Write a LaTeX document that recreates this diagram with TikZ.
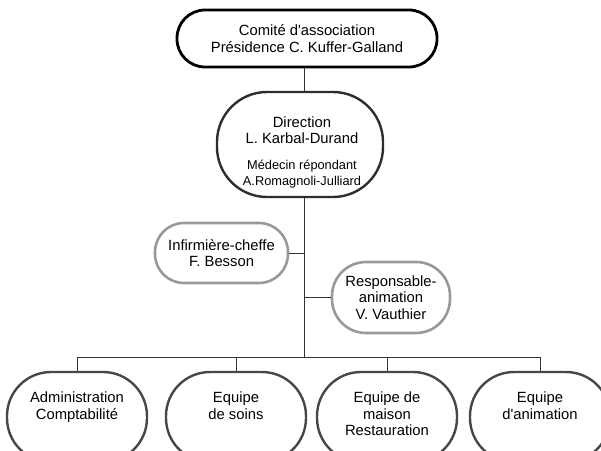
\documentclass[tikz,border=0pt]{standalone}
\usepackage{fontspec}
\setmainfont{Liberation Sans}
\newcommand{\mainsize}{\fontsize{14.8}{16.5}\selectfont}
\newcommand{\smallsize}{\fontsize{12.8}{13.5}\selectfont}
\newcommand{\apos}{\textquotesingle}
\begin{document}
\begin{tikzpicture}[x=1pt,y=-1pt,
  txt/.style={align=center,inner sep=0pt,font=\mainsize},
  topbox/.style={draw=black,line width=2.8pt,rounded corners=28pt,
    minimum width=260pt,minimum height=57pt,txt},
  dirbox/.style={draw=black!82,line width=2.4pt,rounded corners=50pt,
    minimum width=166pt,minimum height=105pt},
  staffbox/.style={draw=black!40,line width=2.6pt,txt},
  unitbox/.style={draw=black!72,line width=2.4pt,rounded corners=44pt,
    minimum width=140pt,minimum height=90pt},
  conn/.style={draw=black!80,line width=0.9pt}]
\useasboundingbox (0,0) rectangle (601,450);
\clip (0,0) rectangle (601,450);

% central spine and the horizontal bus
\coordinate (spine) at (304,357);

% association committee and management
\node[topbox] (comite) at (307,38.5)
  {Comit\'e d\apos association\\Pr\'esidence C. Kuffer-Galland};
\node[dirbox] (dir) at (300,144.5) {};
\node[txt] (dirtext) at (302,152.5)
  {Direction\\L. Karbal-Durand\\[9pt]\smallsize M\'edecin r\'epondant\\\smallsize A.Romagnoli-Julliard};

% staff reporting to management
\node[staffbox,rounded corners=29pt,minimum width=133pt,minimum height=60pt]
  (inf) at (221.5,253) {Infirmi\`ere-cheffe\\F. Besson};
\node[staffbox,rounded corners=34pt,minimum width=118pt,minimum height=71pt]
  (resp) at (391,297.5) {Responsable-\\animation\\V. Vauthier};

% operational units
\node[unitbox] (adm)   at (77,417)  {};
\node[unitbox] (soins) at (236,417) {};
\node[unitbox] (maison) at (387,417) {};
\node[unitbox] (anim)  at (540,417) {};
\node[txt,anchor=north] (admt)   at (77,392)  {Administration\\Comptabilit\'e};
\node[txt,anchor=north] (soinst) at (236,392) {Equipe\\de soins};
\node[txt,anchor=north] (maisont) at (387,392) {Equipe de\\maison\\Restauration};
\node[txt,anchor=north] (animt)  at (540,392) {Equipe\\d\apos animation};

% connectors
\draw[conn] (comite.south -| spine) -- (dir.north -| spine);
\draw[conn] (dir.south -| spine) -- (spine);
\draw[conn] (inf.east) -- (inf.east -| spine);
\draw[conn] (resp.west) -- (resp.west -| spine);
\draw[conn] (adm.north) -- (adm.north |- spine) -- (anim.north |- spine) -- (anim.north);
\draw[conn] (soins.north) -- (soins.north |- spine);
\draw[conn] (maison.north) -- (maison.north |- spine);
\end{tikzpicture}
\end{document}
